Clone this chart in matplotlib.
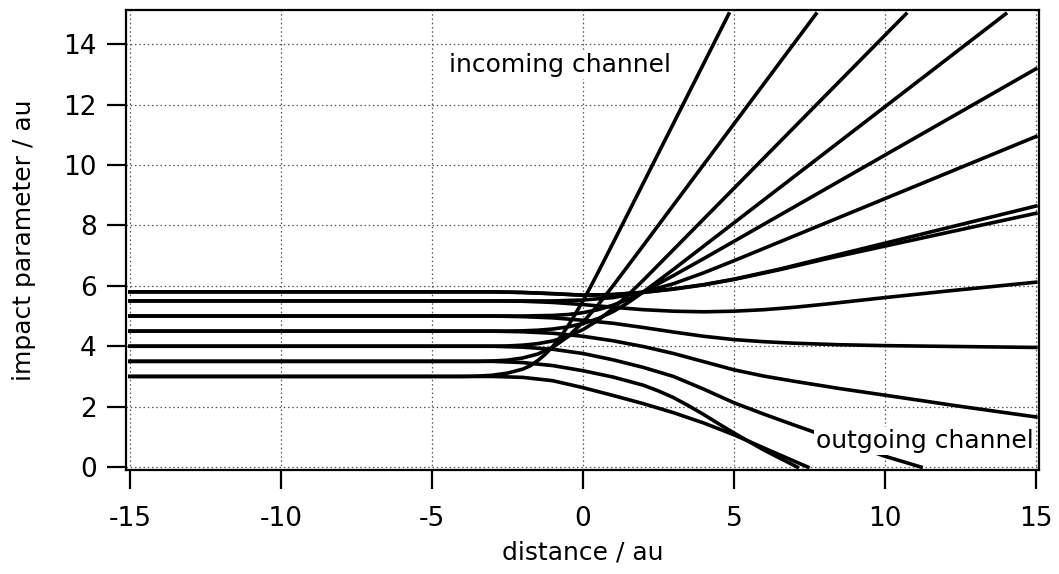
import matplotlib
matplotlib.use('Agg')
import matplotlib.pyplot as plt

# траєкторії: початковий прицільний параметр b, дві гілки (up / lo)
b3_up_x = [-15, -4, -3.5, -3, -2.5, -2, -1.75, -1.5, -1.25, -1, -0.75, -0.5, -0.25, 0, 0.25, 0.5, 1, 4.83]
b3_up_y = [3.0, 3.0, 3.01, 3.04, 3.11, 3.24, 3.35, 3.52, 3.73, 3.99, 4.3, 4.66, 5.07, 5.5, 5.96, 6.44, 7.42, 15.0]
b35_up_x = [-15, -3.5, -3, -2.5, -2, -1.5, -1, -0.5, 0, 0.5, 1, 2, 7.72]
b35_up_y = [3.5, 3.5, 3.51, 3.54, 3.61, 3.74, 3.965, 4.315, 4.79, 5.365, 6.005, 7.335, 15.0]
b4_up_x = [-15, -3, -2.5, -2, -1.5, -1, -0.5, 0, 0.5, 1, 1.5, 2, 10.7]
b4_up_y = [4.0, 4.0, 4.01, 4.035, 4.085, 4.175, 4.325, 4.55, 4.86, 5.25, 5.7, 6.185, 15.0]
b45_up_x = [-15, -2.5, -2, -1.5, -1, -0.5, 0, 0.5, 1, 1.5, 2, 3, 14.0]
b45_up_y = [4.5, 4.5, 4.51, 4.53, 4.57, 4.64, 4.75, 4.915, 5.145, 5.445, 5.795, 6.545, 15.0]
b5_up_x = [-15, -2, -1, -0.5, 0, 0.5, 1, 1.5, 2, 3, 4, 15]
b5_up_y = [5.0, 5.0, 5.02, 5.05, 5.11, 5.21, 5.36, 5.56, 5.8, 6.34, 6.9, 13.18]
b55_up_x = [-15, -1, 0, 1, 2, 3, 4, 5, 15]
b55_up_y = [5.5, 5.5, 5.53, 5.61, 5.79, 6.07, 6.43, 6.83, 10.94]
b58_up_x = [-15, -3, -2, -1, 0, 1, 2, 3, 4, 5, 6.5, 8, 15]
b58_up_y = [5.8, 5.8, 5.78, 5.74, 5.69, 5.71, 5.79, 5.9, 6.04, 6.22, 6.55, 6.92, 8.64]

b58_lo_x = [-15, -3, -2, -1, 0, 1, 2, 3, 4, 5, 6.5, 8, 15]
b58_lo_y = [5.8, 5.8, 5.78, 5.74, 5.69, 5.71, 5.78, 5.89, 6.03, 6.21, 6.53, 6.88, 8.40]
b55_lo_x = [-15, -3, -2, -1, 0, 1, 2, 3, 4, 5, 6, 7, 8, 10, 12, 15]
b55_lo_y = [5.5, 5.5, 5.49, 5.45, 5.38, 5.29, 5.21, 5.16, 5.14, 5.16, 5.21, 5.29, 5.39, 5.61, 5.82, 6.12]
b5_lo_x = [-15, -3, -2, -1, 0, 1, 2, 3, 4, 5, 6, 7, 8.5, 10, 15]
b5_lo_y = [5.0, 5.0, 4.98, 4.94, 4.86, 4.76, 4.62, 4.47, 4.33, 4.22, 4.15, 4.1, 4.05, 4.02, 3.96]
b45_lo_x = [-15, -3, -2, -1, 0, 1, 2, 3, 4, 5, 6, 7, 8.5, 10, 12.5, 15]
b45_lo_y = [4.5, 4.5, 4.48, 4.43, 4.33, 4.18, 3.99, 3.76, 3.49, 3.22, 3.01, 2.84, 2.6, 2.38, 2.01, 1.66]
b4_lo_x = [-15, -3, -2, -1, 0, 1, 2, 3, 4, 5, 6, 7, 7.65, 9, 10, 11.2]
b4_lo_y = [4.0, 4.0, 3.97, 3.9, 3.76, 3.55, 3.3, 3.0, 2.58, 2.13, 1.75, 1.39, 1.16, 0.7, 0.36, 0.0]
b35_lo_x = [-15, -3, -2, -1, 0, 1, 2, 2.5, 3, 3.5, 4, 4.5, 5, 6, 7.1]
b35_lo_y = [3.5, 3.5, 3.46, 3.36, 3.19, 2.98, 2.71, 2.52, 2.3, 2.03, 1.74, 1.43, 1.13, 0.56, 0.0]
b3_lo_x = [-15, -3, -2, -1, 0, 1, 2, 3, 4, 5, 6, 7.45]
b3_lo_y = [3.0, 3.0, 2.97, 2.86, 2.63, 2.37, 2.1, 1.8, 1.46, 1.07, 0.63, 0.0]

trajectories = [
    (b3_up_x, b3_up_y), (b35_up_x, b35_up_y), (b4_up_x, b4_up_y),
    (b45_up_x, b45_up_y), (b5_up_x, b5_up_y), (b55_up_x, b55_up_y),
    (b58_up_x, b58_up_y), (b58_lo_x, b58_lo_y), (b55_lo_x, b55_lo_y),
    (b5_lo_x, b5_lo_y), (b45_lo_x, b45_lo_y), (b4_lo_x, b4_lo_y),
    (b35_lo_x, b35_lo_y), (b3_lo_x, b3_lo_y),
]

x_ticks = [-15, -10, -5, 0, 5, 10, 15]
y_ticks = [0, 2, 4, 6, 8, 10, 12, 14]

plt.rcParams['font.family'] = ['DejaVu Sans']
plt.rcParams['axes.unicode_minus'] = False

fig = plt.figure(figsize=(10.59, 5.74), dpi=100)
ax = fig.add_axes([0.119, 0.181, 0.862, 0.8016])

for tx, ty in trajectories:
    ax.plot(tx, ty, color='black', linewidth=2.6, solid_joinstyle='round', zorder=3)

ax.set_xlim(-15.13, 15.1)
ax.set_ylim(-0.1, 15.13)
ax.set_xticks(x_ticks)
ax.set_yticks(y_ticks)
ax.grid(True, color='#555555', linestyle=(0, (1.2, 2.2)), linewidth=0.9)
ax.set_axisbelow(True)

for s in ax.spines.values():
    s.set_linewidth(1.6)
ax.tick_params(direction='out', length=14, width=1.6, labelsize=19, pad=7)
ax.tick_params(axis='x', pad=12)

ax.set_xlabel('distance / au', fontsize=18, labelpad=6)
ax.set_ylabel('impact parameter / au', fontsize=18, labelpad=20)

box = dict(facecolor='white', edgecolor='none', pad=1.5)
ax.text(-4.44, 13.08, 'incoming channel', fontsize=18, ha='left', va='baseline', bbox=box, zorder=5)
ax.text(7.72, 0.63, 'outgoing channel', fontsize=18, ha='left', va='baseline', bbox=box, zorder=5)

fig.savefig('out.png', dpi=100)
